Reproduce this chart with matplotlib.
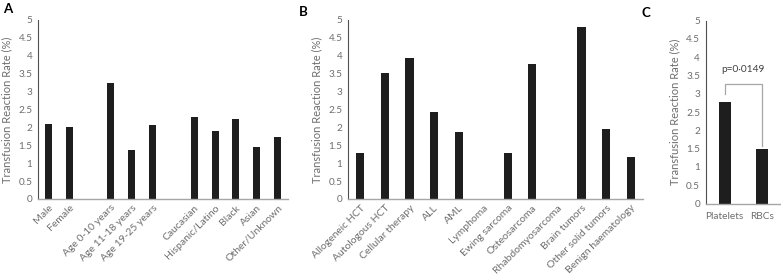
import matplotlib.pyplot as plt
import numpy as np

plt.rcParams.update({'font.family': ['Lato', 'DejaVu Sans'], 'font.size': 7})

W, H = 781, 275

# Panel A - demographics
cats_a = ['Male', 'Female', '', 'Age 0-10 years', 'Age 11-18 years', 'Age 19-25 years', '',
          'Caucasian', 'Hispanic/Latino', 'Black', 'Asian', 'Other/Unknown']
vals_a = [2.1, 2.0, 0, 3.23, 1.38, 2.08, 0, 2.3, 1.9, 2.24, 1.45, 1.74]

# Panel B - diagnosis
cats_b = ['Allogeneic HCT', 'Autologous HCT', 'Cellular therapy', 'ALL', 'AML', 'Lymphoma',
          'Ewing sarcoma', 'Osteosarcoma', 'Rhabdomyosarcoma', 'Brain tumors',
          'Other solid tumors', 'Benign haematology']
vals_b = [1.29, 3.52, 3.94, 2.43, 1.88, 0, 1.29, 3.78, 0, 4.8, 1.95, 1.18]

# Panel C - product
cats_c = ['Platelets', 'RBCs']
vals_c = [2.78, 1.49]
p_text = 'p=0\u00b70149'

yticks = np.arange(0, 5.01, 0.5)
ytick_labels = ['0', '0.5', '1', '1.5', '2', '2.5', '3', '3.5', '4', '4.5', '5']

bar_color = '#1e1e1e'
text_gray = '#6e6e6e'

fig = plt.figure(figsize=(W / 100, H / 100), dpi=100)


def px_axes(x0, x1, ytop, ybot):
    return fig.add_axes([x0 / W, 1 - ybot / H, (x1 - x0) / W, (ybot - ytop) / H])


def style(ax, n):
    ax.set_xlim(-0.5, n - 0.5)
    ax.set_ylim(0, 5)
    ax.set_yticks(yticks)
    ax.set_yticklabels(ytick_labels)
    ax.tick_params(length=0, colors=text_gray, labelsize=7.2)
    ax.tick_params(axis='y', pad=4)
    for s in ['top', 'right']:
        ax.spines[s].set_visible(False)
    ax.spines['left'].set_color('#505050')
    ax.spines['left'].set_linewidth(0.8)
    ax.spines['bottom'].set_color('#a6a6a6')
    ax.spines['bottom'].set_linewidth(1.0)
    ax.set_ylabel('Transfusion Reaction Rate (%)', color=text_gray, fontsize=8, labelpad=4)


def rotated_labels(ax, labels):
    ax.set_xticks(range(len(labels)))
    ax.set_xticklabels(labels, rotation=45, ha='right', rotation_mode='anchor', fontsize=7.5)
    ax.tick_params(axis='x', pad=3)


ax1 = px_axes(38, 288, 20, 199)
ax1.bar(range(len(vals_a)), vals_a, width=0.33, color=bar_color)
style(ax1, len(vals_a))
rotated_labels(ax1, cats_a)

ax2 = px_axes(348, 643, 20, 199)
ax2.bar(range(len(vals_b)), vals_b, width=0.33, color=bar_color)
style(ax2, len(vals_b))
rotated_labels(ax2, cats_b)

ax3 = px_axes(705.7, 781, 20.5, 203.5)
ax3.bar(range(len(vals_c)), vals_c, width=0.32, color=bar_color)
style(ax3, len(vals_c))
ax3.set_xticks(range(len(cats_c)))
ax3.set_xticklabels(cats_c, fontsize=7.3)
ax3.tick_params(axis='x', pad=6)

# significance bracket
ax3.plot([0, 0, 1, 1], [vals_c[0] + 0.2, 3.27, 3.27, vals_c[1] + 0.07],
         color='#a6a6a6', lw=0.9, clip_on=False)
ax3.text(0.5, 3.66, p_text, ha='center', va='center', fontsize=7.3, color='#404040')

fig.text(3 / W, 1 - 9 / H, 'A', fontsize=9.5, fontweight='bold', va='center', ha='left')
fig.text(299 / W, 1 - 12 / H, 'B', fontsize=9.5, fontweight='bold', va='center', ha='left')
fig.text(641 / W, 1 - 13 / H, 'C', fontsize=9.5, fontweight='bold', va='center', ha='left')

plt.savefig('out.png', dpi=100)
